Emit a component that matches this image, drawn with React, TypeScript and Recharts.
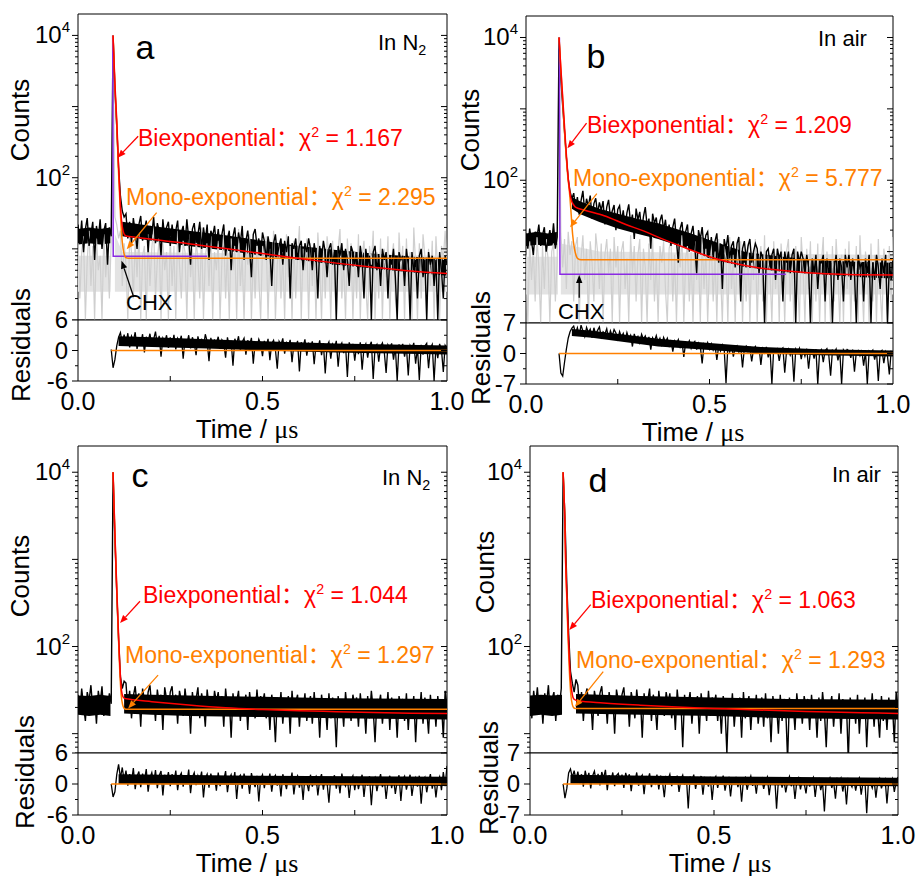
import React from 'react';
import { ComposedChart, Line, Area, XAxis, YAxis, ReferenceArea, ReferenceLine } from 'recharts';

const FONT = "'Liberation Sans', Arial, 'Noto Sans CJK SC', sans-serif";
const RED = '#ff0000';
const ORANGE = '#ff8000';
const PURPLE = '#8a2be2';
const GREY = '#cfcfcf';
const GREY_CORE = '#e3e3e3';

// decay traces are sampled every 5 ns from t = 0, residuals from t = 0.09 us
const STEP = 0.005;
const RES_START = 0.09;

const X_TICKS = [0, 0.25, 0.5, 0.75, 1];
const LOG_TICKS_1 = [1, 2, 3, 4, 5, 6, 7, 8, 9, 10, 20, 30, 40, 50, 60, 70, 80, 90, 100, 200, 300, 400, 500, 600, 700, 800, 900, 1000, 2000, 3000, 4000, 5000, 6000, 7000, 8000, 9000, 10000];
const LOG_TICKS_6 = [6, 7, 8, 9, 10, 20, 30, 40, 50, 60, 70, 80, 90, 100, 200, 300, 400, 500, 600, 700, 800, 900, 1000, 2000, 3000, 4000, 5000, 6000, 7000, 8000, 9000, 10000];
const RES_TICKS_6 = [-6, -3, 0, 3, 6];
const RES_TICKS_7 = [-7, -3.5, 0, 3.5, 7];
const ZERO_LINE = [[0.09, 0], [1.0, 0]];

// ---------- a : In N2 ----------
const decayA = [
  22, 12, 25, 9, 19, 27, 11, 16, 24, 7, 21, 14, 26, 10, 18, 23, 6, 20,
  15,
  10000, 1800, 520, 140, 55, 34, 28,
  31, 14, 24, 12, 27, 17, 10, 22, 29, 13, 19, 25, 9, 21, 16, 28, 12, 23, 18, 8, 26, 14, 20, 24, 11,
  22, 13, 18, 25, 9, 17, 21, 11, 26, 14, 6, 19, 23, 12, 16, 24, 10, 20, 13, 22, 7, 18, 15, 21, 11,
  19, 10, 16, 22, 8, 14, 18, 5, 15, 20, 9, 17, 12, 21, 7, 13, 18, 10, 4, 16, 19, 11, 14, 8, 17,
  13, 7, 15, 10, 3, 12, 16, 8, 11, 14, 6, 13, 9, 15, 2, 12, 10, 14, 7, 11, 13, 5, 12, 9, 14,
  10, 5, 12, 8, 2, 11, 7, 13, 9, 4, 10, 12, 6, 9, 1, 11, 8, 12, 5, 10, 7, 3, 11, 9, 6,
  9, 4, 11, 7, 2, 10, 6, 8, 1, 9, 11, 5, 8, 3, 10, 7, 9, 2, 8, 6, 10, 4, 1, 9, 7,
  8, 3, 10, 6, 1, 9, 5, 7, 2, 8, 10, 4, 7, 1, 9, 6, 8, 3, 7, 1, 9, 5, 2, 8, 6,
];
// dense core of each noisy trace: [t, low, high]
const corePreA = [[0, 11.5, 19], [0.03, 12, 20], [0.06, 11.5, 19], [0.088, 12, 20]];
const coreA = [[0.12, 15, 24], [0.2, 13, 21], [0.3, 11, 18], [0.4, 9.5, 15.5], [0.5, 8, 13], [0.6, 7, 11], [0.7, 6, 9.6], [0.8, 5.3, 8.6], [0.9, 4.7, 7.8], [1.0, 4.2, 7.2]];
const chxA = [
  12, 2, 9, 15, 1, 7, 18, 3, 11, 1, 14, 5, 8, 1, 16, 4, 10, 2,
  13,
  9000, 28, 22, 14, 18, 3, 12,
  6, 1, 15, 9, 2, 13, 4, 17, 1, 8, 11, 1, 16, 3, 10, 22, 2, 7, 14, 1, 12, 5, 9, 1, 15,
  3, 11, 1, 18, 6, 2, 13, 9, 1, 16, 4, 10, 1, 14, 7, 2, 20, 1, 8, 12, 3, 15, 1, 9, 5,
  13, 1, 7, 17, 2, 10, 1, 14, 5, 11, 1, 19, 3, 8, 1, 12, 6, 16, 1, 9, 2, 14, 4, 1, 11,
  7, 15, 1, 10, 3, 18, 1, 6, 12, 2, 9, 1, 16, 4, 11, 1, 13, 2, 8, 21, 1, 10, 5, 14, 1,
  12, 3, 9, 1, 17, 6, 1, 11, 2, 15, 8, 1, 13, 4, 1, 10, 19, 2, 7, 1, 14, 5, 12, 1, 9,
  2, 16, 1, 8, 13, 3, 1, 11, 6, 18, 1, 9, 2, 14, 1, 10, 4, 15, 1, 7, 12, 2, 1, 17, 5,
  11, 1, 14, 3, 9, 1, 20, 6, 1, 12, 2, 16, 8, 1, 10, 3, 13, 1, 15, 5, 1, 11, 7, 18, 4,
];
const chxCorePreA = [[0, 2.5, 8], [0.088, 2.5, 8]];
const chxCoreA = [[0.1, 2.5, 16], [0.12, 2.5, 9], [1.0, 2.5, 8]];
const residA = [
  0.2, -3.4, -1.8, 0.9, 2.6, 3.5, 1.4, 3.1,
  1.2, 3.4, 0.6, 2.8, 1.9, 3.6, 0.3, 2.5, 1.4, 3.2, -0.4, 2.7, 1.8, 3.3, 0.9, 2.2, 3.7, 1.1, 2.9, -1.2, 2.4, 1.6, 3.0, 0.5, 2.6,
  1.0, 3.1, 0.2, 2.4, 1.7, 2.9, -1.6, 2.2, 1.3, 3.0, 0.4, 2.6, 1.5, -0.9, 2.8, 1.1, 2.3, 0.6, 3.2, 1.8, -2.1, 2.5, 0.8, 2.0, 1.4,
  2.7, 0.3, 2.1, 1.5, -1.4, 2.6, 0.7, 1.9, -3.0, 2.3, 1.2, 2.8, 0.1, 1.7, 2.4, -0.8, 2.0, 1.0, 2.5, -2.6, 1.6, 0.4, 2.2, 1.3, -1.1,
  1.9, 0.5, 2.3, -1.9, 1.4, 2.0, 0.2, -3.6, 1.8, 1.1, 2.4, -0.6, 1.5, 0.8, 2.1, -2.3, 1.2, 0.3, 1.9, -4.1, 1.6, 0.7, 2.2, -1.0, 1.3,
  0.6, 1.8, -2.7, 1.1, 0.2, 2.0, -0.9, 1.4, -4.5, 0.9, 1.7, -1.6, 1.2, 0.4, 1.9, -3.2, 0.8, 1.5, -0.5, 1.1, -5.2, 1.6, 0.3, 1.3, -2.0,
  1.0, -0.7, 1.6, -3.8, 0.5, 1.3, -1.4, 0.9, 1.7, -5.6, 0.6, 1.2, -2.2, 0.8, 1.5, -0.3, -4.4, 1.1, 0.4, 1.4, -1.8, 0.7, -6.0, 1.2, 0.2,
  1.3, -1.2, 0.8, -4.9, 1.0, 0.3, 1.5, -2.6, 0.6, -5.8, 1.1, -0.8, 0.9, 1.4, -3.5, 0.5, 1.2, -6.0, 0.7, -1.5, 1.3, 0.1, -4.2, 1.0, 0.4,
];
const resCoreA = [[0.11, 0.9, 2.8], [0.2, 0.7, 2.6], [0.35, 0.4, 2.2], [0.5, 0, 1.8], [0.7, -0.4, 1.4], [1.0, -0.8, 1.0]];
const biexpA = [[0.095, 10000], [0.1, 2100], [0.105, 640], [0.11, 140], [0.114, 50], [0.118, 25], [0.122, 18], [0.126, 15.8], [0.13, 15.2], [0.16, 14.5], [0.2, 13.6], [0.3, 11.8], [0.4, 10.1], [0.5, 8.6], [0.6, 7.3], [0.7, 6.3], [0.8, 5.5], [0.9, 4.9], [1.0, 4.5]];
const monoA = [[0.095, 10000], [0.1, 1900], [0.105, 560], [0.11, 115], [0.114, 40], [0.118, 16.5], [0.122, 10.2], [0.126, 8.1], [0.13, 7.5], [0.136, 7.4], [1.0, 7.4]];
const irfA = [[0.094, 10000], [0.0955, 7.9], [0.35, 7.9]];

// ---------- b : In air ----------
const decayB = [
  18, 11, 21, 14, 9, 19, 16, 24, 12, 17, 22, 10, 15, 20, 13, 25, 11, 16,
  10000,
  2600, 1100, 480, 210, 105, 70, 55,
  66, 40, 58, 33, 52, 71, 36, 55, 43, 61, 29, 47, 56, 34, 49, 38, 51, 24, 42, 53, 30, 37, 45, 20, 39,
  44, 26, 38, 21, 35, 46, 24, 33, 15, 40, 28, 36, 19, 31, 42, 23, 29, 11, 34, 25, 30, 17, 27, 33, 20,
  28, 16, 24, 12, 22, 29, 14, 7, 21, 26, 13, 19, 24, 10, 18, 23, 12, 5, 20, 15, 22, 11, 17, 19, 9,
  16, 9, 14, 18, 7, 13, 3, 15, 11, 17, 8, 12, 14, 6, 13, 16, 2, 11, 14, 8, 12, 15, 7, 10, 13,
  11, 5, 10, 8, 1, 10, 11, 6, 9, 11, 4, 11, 8, 10, 2, 10, 7, 10, 5, 9, 11, 1, 10, 7, 10,
  8, 5, 9, 6, 1, 8, 5, 9, 3, 7, 7, 9, 2, 8, 5, 7, 1, 6, 9, 4, 8, 6, 2, 9, 6,
  9, 4, 8, 5, 1, 9, 6, 7, 2, 8, 5, 9, 1, 7, 4, 9, 6, 3, 8, 5, 9, 1, 7, 4, 8,
];
const corePreB = [[0, 12, 18], [0.03, 12.5, 19], [0.06, 12, 18], [0.087, 12.5, 19]];
const coreB = [[0.125, 40, 58], [0.15, 33, 50], [0.2, 26, 40], [0.25, 21, 34], [0.3, 18, 29], [0.36, 15, 25], [0.45, 10.5, 18], [0.5, 8, 14.5], [0.6, 6, 9.8], [0.7, 5.2, 8.5], [0.8, 4.8, 7.6], [0.9, 4.4, 7.2], [1.0, 4.2, 7]];
const chxB = [
  9, 1, 14, 4, 11, 2, 16, 6, 1, 12, 3, 15, 8, 1, 10, 13, 2, 7,
  9000,
  18, 6, 15, 3, 19, 9, 14,
  2, 12, 16, 1, 8, 17, 4, 11, 1, 14, 7, 2, 18, 10, 3, 13, 1, 9, 15, 5, 11, 1, 16, 6, 12,
  1, 10, 14, 3, 8, 1, 17, 5, 12, 2, 9, 15, 1, 11, 6, 1, 13, 4, 16, 2, 8, 1, 12, 7, 14,
  3, 1, 11, 15, 2, 9, 1, 13, 6, 17, 1, 8, 12, 2, 10, 1, 14, 4, 9, 1, 16, 3, 11, 1, 7,
  13, 2, 10, 1, 15, 5, 1, 12, 8, 1, 16, 3, 9, 1, 11, 6, 14, 1, 7, 2, 13, 1, 10, 4, 15,
  1, 8, 12, 2, 17, 1, 9, 5, 1, 14, 3, 11, 1, 13, 6, 1, 10, 15, 2, 8, 1, 12, 4, 1, 16,
  6, 1, 11, 3, 14, 1, 9, 2, 13, 1, 7, 16, 1, 10, 4, 1, 12, 2, 15, 5, 1, 9, 1, 11, 3,
  14, 1, 8, 2, 12, 1, 17, 4, 1, 10, 6, 1, 13, 2, 9, 1, 15, 3, 1, 11, 7, 1, 12, 2, 16,
];
const chxCorePreB = [[0, 2.5, 8.5], [0.087, 2.5, 8.5]];
const chxCoreB = [[0.095, 2.5, 13], [0.2, 2.5, 10], [1.0, 2.5, 9]];
const residB = [
  0, -4.5, -5.2, -2.0, 1.0, 3.5, 5.0, 5.8,
  6.3, 4.6, 5.9, 4.1, 6.5, 5.2, 3.9, 6.0, 4.8, 5.6, 3.6, 5.9, 4.4, 5.3, 6.1, 3.8, 5.0, 4.5, 5.7, 3.4, 5.2, 4.0, 5.5, 4.7, 3.3,
  5.0, 3.7, 4.6, 2.9, 4.8, 3.4, 4.2, 1.6, 4.5, 3.1, 3.9, 2.5, 4.4, 3.3, 4.0, 2.2, 3.8, 0.9, 3.6, 2.8, 4.1, 2.4, 3.5, 2.0, 3.7,
  2.6, 3.5, 1.8, 3.1, 0.4, 2.9, 2.2, 3.2, 1.5, 2.7, -0.8, 2.5, 1.9, 2.9, 1.2, 2.3, 2.8, 0.9, 2.4, 1.6, -2.3, 2.1, 1.3, 2.5, 1.0,
  2.2, 0.8, 1.9, -1.5, 1.7, 0.6, 2.0, 1.1, -6.8, 1.6, 0.4, 1.9, -0.7, 1.4, 1.8, 0.3, 1.5, -3.2, 1.2, 1.7, 0.5, 1.3, -1.8, 1.0, 1.6,
  0.4, 1.4, -2.6, 1.1, 0.2, 1.5, -0.9, 0.8, -7.0, 1.2, 0.3, 1.0, -1.7, 0.9, 1.3, -4.4, 0.6, 1.1, -0.4, 0.7, -6.5, 1.0, 0.2, 1.2, -1.3,
  0.9, -0.6, 1.1, -3.5, 0.5, 0.8, -1.2, 1.0, -7.0, 0.4, 0.9, -2.0, 0.6, 1.1, -0.3, -5.1, 0.7, 0.2, 1.0, -1.6, 0.5, -7.0, 0.8, 0.1, 0.9,
  0.6, -1.0, 0.9, -4.2, 0.3, 0.7, -0.5, 0.8, -2.8, 0.4, -7.0, 0.6, 0.2, 0.8, -1.4, 0.5, -6.3, 0.3, 0.7, -2.2, 0.4, -0.6, -4.8, 0.5, 0.2,
];
const resCoreB = [[0.125, 4.0, 5.6], [0.18, 3.6, 5.2], [0.36, 1.6, 3.4], [0.5, 0.8, 2.4], [0.64, 0, 1.5], [0.8, -0.4, 1.0], [1.0, -0.7, 0.7]];
const biexpB = [[0.09, 10000], [0.095, 3700], [0.1, 1450], [0.105, 560], [0.109, 270], [0.113, 140], [0.117, 85], [0.121, 60], [0.125, 50], [0.13, 45], [0.136, 41.6], [0.16, 38], [0.213, 31.8], [0.272, 24], [0.32, 19.5], [0.363, 15.7], [0.43, 11.5], [0.509, 8.2], [0.57, 6.8], [0.636, 5.9], [0.72, 5.3], [0.817, 4.9], [0.9, 4.75], [1.0, 4.7]];
const monoB = [[0.09, 10000], [0.095, 3500], [0.1, 1300], [0.105, 470], [0.11, 200], [0.114, 110], [0.118, 72], [0.122, 40], [0.127, 17.5], [0.132, 11], [0.137, 8.7], [0.141, 8.0], [0.15, 7.7], [1.0, 7.7]];
const irfB = [[0.091, 10000], [0.0925, 4.8], [0.708, 4.8]];

// ---------- c : In N2 ----------
const decayC = [
  28, 17, 33, 21, 14, 30, 24, 36, 19, 26, 13, 31, 22, 35, 16, 27, 20, 29,
  22,
  10000, 1700, 420, 120, 45, 33, 40,
  38, 19, 31, 15, 27, 35, 21, 29, 12, 33, 24, 17, 30, 36, 20, 26, 14, 32, 22, 28, 11, 34, 25, 18, 30,
  35, 18, 28, 13, 31, 24, 16, 33, 21, 27, 10, 30, 19, 25, 34, 15, 29, 22, 12, 32, 20, 26, 17, 31, 23,
  30, 16, 27, 12, 33, 20, 25, 9, 29, 18, 23, 31, 14, 26, 21, 28, 11, 30, 19, 24, 15, 32, 17, 27, 22,
  29, 15, 25, 11, 28, 20, 8, 26, 17, 30, 13, 24, 19, 27, 10, 31, 16, 23, 28, 12, 25, 18, 29, 14, 22,
  27, 13, 30, 16, 24, 9, 28, 19, 22, 11, 29, 15, 26, 20, 7, 27, 17, 23, 12, 30, 18, 25, 14, 28, 21,
  26, 12, 29, 17, 23, 10, 27, 15, 31, 19, 8, 25, 21, 28, 13, 24, 16, 30, 11, 26, 18, 22, 9, 27, 20,
  25, 14, 29, 11, 24, 18, 27, 8, 23, 16, 30, 13, 26, 19, 10, 28, 15, 24, 12, 27, 17, 22, 9, 31, 21,
];
const corePreC = [[0, 16.5, 27.5], [0.03, 16, 27], [0.06, 16.5, 28], [0.088, 16, 27]];
const coreC = [[0.125, 17, 28.5], [0.2, 16.5, 28], [0.3, 16, 27.5], [0.5, 15.5, 26.5], [0.7, 15, 25.5], [1.0, 14.5, 25]];
const residC = [
  0, -2.5, -1.5, 1.8, 3.8, 1.2, 3.2, 0.6,
  2.6, -0.3, 1.9, 0.4, 3.1, -1.0, 1.5, 2.4, -0.6, 2.0, 0.7, 2.9, -1.5, 1.2, 2.2, 0.1, 2.7, -0.8, 1.6, 2.5, -2.2, 1.8, 0.5, 2.3, -0.4,
  1.9, 0.3, 2.6, -1.2, 1.4, 2.1, -0.5, 1.7, 0.2, 2.8, -1.8, 1.3, 2.2, -0.2, 1.6, 0.6, 2.4, -2.6, 1.1, 1.9, -0.7, 2.0, 0.4, 1.5, -1.3,
  2.2, -0.4, 1.3, 0.8, 2.5, -1.6, 1.0, 1.8, -0.1, 2.3, -2.9, 1.2, 1.7, -0.9, 2.0, 0.3, 1.4, -1.9, 2.1, 0.5, -0.6, 1.6, -3.4, 1.1, 1.8,
  -0.8, 1.5, 0.2, 2.0, -1.5, 1.1, 1.7, -0.3, 1.3, -2.4, 1.9, 0.6, -1.0, 1.4, 0.1, 2.2, -2.0, 0.9, 1.6, -0.7, 1.2, -3.1, 1.5, 0.4, -1.4,
  1.8, -0.5, 1.0, 1.5, -2.2, 0.8, 1.9, -1.1, 1.2, 0.2, -3.6, 1.4, 0.6, 1.7, -0.9, 1.1, -1.8, 2.0, 0.3, -0.4, 1.3, -2.7, 0.9, 1.6, -1.2,
  1.4, -1.0, 0.7, 1.8, -2.5, 1.0, -0.3, 1.5, -4.1, 0.8, 1.3, -1.4, 0.5, 1.9, -0.6, 1.1, -2.9, 0.4, 1.6, -0.8, 1.2, -1.9, 0.6, 1.7, -3.3,
  0.9, 1.5, -1.1, 0.6, 1.8, -2.3, 0.3, 1.2, -0.5, 1.6, -3.8, 0.7, 1.3, -1.6, 0.4, 1.9, -0.9, 1.0, -2.6, 0.5, 1.4, -1.2, 2.3, -0.4, 3.5,
];
const resCoreC = [[0.11, 0, 1.9], [0.5, -0.2, 1.6], [1.0, -0.4, 1.4]];
const biexpC = [[0.095, 10000], [0.1, 2000], [0.105, 470], [0.109, 170], [0.113, 65], [0.118, 31], [0.122, 26.5], [0.126, 25.4], [0.14, 24.8], [0.2, 23.3], [0.3, 21.3], [0.4, 19.8], [0.5, 18.9], [0.6, 18.3], [0.7, 17.9], [0.8, 17.5], [0.9, 17.2], [1.0, 17]];
const monoC = [[0.095, 10000], [0.1, 1900], [0.105, 440], [0.109, 150], [0.113, 55], [0.117, 28], [0.121, 21.5], [0.125, 19.5], [0.13, 19.1], [1.0, 19.1]];

// ---------- d : In air ----------
const decayD = [
  26, 15, 31, 20, 34, 18, 27, 13, 29, 22, 36, 17, 25, 30, 14, 28, 21, 33,
  10000,
  3000, 520, 140, 52, 38, 30, 42,
  36, 18, 30, 14, 27, 33, 20, 25, 11, 31, 23, 16, 29, 35, 19, 26, 13, 30, 21, 27, 10, 32, 24, 17, 28,
  34, 17, 27, 12, 30, 23, 15, 32, 20, 26, 9, 29, 18, 24, 33, 14, 28, 21, 11, 31, 19, 25, 16, 30, 22,
  29, 15, 26, 11, 32, 19, 24, 7, 28, 17, 22, 30, 13, 25, 20, 27, 10, 29, 18, 23, 14, 31, 16, 26, 21,
  28, 14, 24, 10, 27, 19, 6, 25, 16, 29, 12, 23, 18, 26, 9, 30, 15, 22, 27, 11, 24, 17, 28, 13, 21,
  26, 12, 29, 15, 23, 8, 27, 18, 21, 10, 28, 14, 25, 19, 5, 26, 16, 22, 11, 29, 17, 24, 13, 27, 20,
  25, 11, 28, 16, 22, 9, 26, 14, 30, 18, 7, 24, 20, 27, 12, 23, 15, 29, 10, 25, 17, 21, 5, 26, 19,
  24, 13, 28, 10, 23, 17, 26, 7, 22, 15, 29, 12, 25, 18, 9, 27, 14, 23, 11, 26, 16, 21, 8, 30, 20,
];
const corePreD = [[0, 16, 27.5], [0.03, 16.5, 28], [0.06, 16, 27.5], [0.087, 16.5, 28]];
const coreD = [[0.125, 17, 28.5], [0.3, 16.5, 27], [0.5, 16, 26], [0.7, 15, 25], [1.0, 14.5, 24.5]];
const residD = [
  0, -3.2, -1.0, 2.5, 3.4, 1.5, 3.0, 0.8,
  2.8, 0.2, 2.2, -0.6, 3.0, 1.1, 2.5, -1.0, 1.8, 2.9, 0.4, 2.3, -0.3, 2.7, 1.3, 3.2, -1.4, 2.0, 0.7, 2.6, -0.5, 1.9, 2.4, 0.1, 2.1,
  -0.9, 2.5, 1.0, 2.2, -1.6, 1.7, 0.5, 2.6, -0.4, 1.4, 2.0, -2.3, 1.8, 0.8, 2.4, -0.7, 1.5, 0.2, 2.1, -1.2, 1.9, 0.6, -3.0, 1.6, 1.1,
  2.2, -0.5, 1.3, 0.4, 1.9, -1.8, 1.1, 2.0, -0.2, 1.5, -5.5, 1.7, 0.7, 2.1, -1.1, 1.2, 0.3, 1.8, -2.4, 1.4, 0.9, -0.6, 1.6, -3.6, 1.0,
  1.7, -0.9, 1.2, 0.5, 1.9, -1.5, 0.8, 1.4, -2.8, 1.1, 0.2, 1.6, -0.7, 1.3, -4.0, 0.9, 1.5, -1.3, 0.6, 1.8, -0.4, 1.0, -2.2, 1.4, 0.3,
  1.2, -1.1, 0.7, 1.6, -2.5, 0.9, 0.3, 1.5, -5.6, 0.8, 1.3, -0.8, 1.0, -1.9, 0.5, 1.7, -0.5, 1.1, -3.4, 0.6, 1.4, -1.2, 0.9, 0.2, -2.1,
  1.3, -0.6, 0.8, 1.5, -2.9, 0.7, 1.2, -1.4, 0.4, -6.2, 1.0, 0.5, 1.4, -0.9, 0.6, -3.3, 1.1, 0.3, 1.3, -1.7, 0.8, -4.6, 1.0, 0.2, -0.7,
  1.1, -1.5, 0.7, 1.4, -2.4, 0.5, 0.9, -6.6, 1.2, 0.3, -0.9, 1.0, -3.1, 0.6, 1.3, -1.0, 0.4, 1.1, -4.4, 0.8, 0.2, 1.2, -1.8, 0.5, 1.6,
];
const resCoreD = [[0.11, 0.1, 2.1], [0.5, -0.2, 1.7], [1.0, -0.5, 1.4]];
const biexpD = [[0.09, 10000], [0.094, 3500], [0.097, 910], [0.1, 400], [0.103, 170], [0.107, 70], [0.111, 38], [0.115, 28], [0.119, 25], [0.13, 23.8], [0.2, 22.5], [0.3, 21.2], [0.4, 20.2], [0.5, 19.5], [0.6, 18.8], [0.75, 18.0], [0.9, 17.4], [1.0, 17]];
const monoD = [[0.09, 10000], [0.094, 3400], [0.097, 850], [0.1, 350], [0.103, 140], [0.107, 52], [0.111, 28], [0.115, 21.5], [0.119, 19.8], [0.123, 19.5], [1.0, 19.5]];

const onGrid = (vals: number[], t0 = 0) => vals.map((v, i) => ({ t: Number((t0 + i * STEP).toFixed(4)), v }));
const pairs = (arr: number[][]) => arr.map(([t, v]) => ({ t, v }));
const ranges = (arr: number[][]) => arr.map(([t, lo, hi]) => ({ t, r: [lo, hi] }));

const YW = 72; // room for the left tick labels
const XH = 40; // room for the bottom tick labels
const MT = 15; // residual chart: room above for the top tick label
const MR = 25; // residual chart: room on the right for "1.0"

type Arrow = { from: number[]; to: number[]; color: string };

const panels = [
  {
    id: 'a', env: 'N2', chiBi: '1.167', chiMono: '2.295',
    left: 78, w: 369, top: 14, boundary: 320, bottom: 381,
    logDomain: [1, 20000], logTicks: LOG_TICKS_1, res: 6, resTicks: RES_TICKS_6,
    decay: onGrid(decayA), core: [ranges(corePreA), ranges(coreA)],
    chx: onGrid(chxA), chxCore: [ranges(chxCorePreA), ranges(chxCoreA)],
    resid: onGrid(residA, RES_START), resCore: ranges(resCoreA),
    biexp: pairs(biexpA), mono: pairs(monoA), irf: pairs(irfA),
    arrows: [
      { from: [0.163, 383], to: [0.1076, 191], color: RED },
      { from: [0.213, 32.3], to: [0.132, 9.9], color: ORANGE },
      { from: [0.15, 2.18], to: [0.118, 6.8], color: '#000' },
    ] as Arrow[],
    letter: [145, 47], envPos: [378, 43], bi: [138, 138], mono2: [126, 197], chxPos: [126, 303],
    counts: [20, 120], residPos: [21, 345], time: [247, 429],
  },
  {
    id: 'b', env: 'air', chiBi: '1.209', chiMono: '5.777',
    left: 526, w: 367, top: 16, boundary: 323, bottom: 384,
    logDomain: [1, 20000], logTicks: LOG_TICKS_1, res: 7, resTicks: RES_TICKS_7,
    decay: onGrid(decayB), core: [ranges(corePreB), ranges(coreB)],
    chx: onGrid(chxB), chxCore: [ranges(chxCorePreB), ranges(chxCoreB)],
    resid: onGrid(residB, RES_START), resCore: ranges(resCoreB),
    biexp: pairs(biexpB), mono: pairs(monoB), irf: pairs(irfB),
    arrows: [
      { from: [0.165, 630], to: [0.113, 280], color: RED },
      { from: [0.193, 65], to: [0.12, 21.9], color: ORANGE },
      { from: [0.145, 2.25], to: [0.145, 4.7], color: '#000' },
    ] as Arrow[],
    letter: [596, 56], envPos: [818, 39], bi: [587, 125], mono2: [573, 178], chxPos: [558, 312],
    counts: [470, 130], residPos: [481, 348], time: [693, 432],
  },
  {
    id: 'c', env: 'N2', chiBi: '1.044', chiMono: '1.297',
    left: 78, w: 369, top: 446, boundary: 753, bottom: 815,
    logDomain: [6, 20000], logTicks: LOG_TICKS_6, res: 6, resTicks: RES_TICKS_6,
    decay: onGrid(decayC), core: [ranges(corePreC), ranges(coreC)],
    chx: null, chxCore: [],
    resid: onGrid(residC, RES_START), resCore: ranges(resCoreC),
    biexp: pairs(biexpC), mono: pairs(monoC), irf: null,
    arrows: [
      { from: [0.168, 331], to: [0.114, 186], color: RED },
      { from: [0.217, 47], to: [0.136, 19.5], color: ORANGE },
    ] as Arrow[],
    letter: [140, 475], envPos: [382, 478], bi: [143, 595], mono2: [125, 655], chxPos: null,
    counts: [20, 576], residPos: [25, 772], time: [247, 863],
  },
  {
    id: 'd', env: 'air', chiBi: '1.063', chiMono: '1.293',
    left: 530, w: 368, top: 446, boundary: 753, bottom: 815,
    logDomain: [6, 20000], logTicks: LOG_TICKS_6, res: 7, resTicks: RES_TICKS_7,
    decay: onGrid(decayD), core: [ranges(corePreD), ranges(coreD)],
    chx: null, chxCore: [],
    resid: onGrid(residD, RES_START), resCore: ranges(resCoreD),
    biexp: pairs(biexpD), mono: pairs(monoD), irf: null,
    arrows: [
      { from: [0.165, 302], to: [0.107, 155], color: RED },
      { from: [0.199, 51.5], to: [0.122, 20.3], color: ORANGE },
    ] as Arrow[],
    letter: [598, 480], envPos: [832, 475], bi: [591, 600], mono2: [576, 660], chxPos: null,
    counts: [485, 572], residPos: [489, 778], time: [720, 863],
  },
];

// ---- custom ticks (drawn by hand so minor ones can be shorter) ----
const isDecade = (v: number) => {
  const e = Math.log10(v);
  return Math.abs(e - Math.round(e)) < 1e-6;
};

const LeftLogTick = (props: any) => {
  const { x, y, payload } = props;
  const v = payload.value;
  const ax = x + 8;
  const major = isDecade(v);
  const exp = Math.round(Math.log10(v));
  const label = major && (exp === 2 || exp === 4);
  return (
    <g>
      <line x1={ax - (major ? 6 : 3)} x2={ax} y1={y} y2={y} stroke="#000" strokeWidth={1} />
      {label && (
        <text x={x} y={y + 8} textAnchor="end" fontSize={24} fontFamily={FONT} fill="#000">
          10<tspan fontSize={15} dy={-11}>{exp}</tspan>
        </text>
      )}
    </g>
  );
};

const RightLogTick = (props: any) => {
  const { x, y, payload } = props;
  const len = isDecade(payload.value) ? 6 : 3;
  return <line x1={x - len} x2={x} y1={y} y2={y} stroke="#000" strokeWidth={1} />;
};

const LeftResTick = (props: any) => {
  const { x, y, payload, index } = props;
  const ax = x + 10;
  const major = index % 2 === 0;
  return (
    <g>
      <line x1={ax - (major ? 6 : 3)} x2={ax} y1={y} y2={y} stroke="#000" strokeWidth={1} />
      {major && (
        <text x={x} y={y + 8} textAnchor="end" fontSize={24} fontFamily={FONT} fill="#000">
          {String(payload.value)}
        </text>
      )}
    </g>
  );
};

const RightResTick = (props: any) => {
  const { x, y, index } = props;
  const len = index % 2 === 0 ? 6 : 3;
  return <line x1={x - len} x2={x} y1={y} y2={y} stroke="#000" strokeWidth={1} />;
};

const TopTick = (props: any) => {
  const { x, y, index } = props;
  if (index === 0 || index === 4) return <g />;
  return <line x1={x} x2={x} y1={y} y2={y + 5} stroke="#000" strokeWidth={1} />;
};

const BottomTick = (props: any) => {
  const { x, y, payload, index } = props;
  return (
    <g>
      {index > 0 && index < 4 && <line x1={x} x2={x} y1={y - 5} y2={y} stroke="#000" strokeWidth={1} />}
      {index % 2 === 0 && (
        <text x={x} y={y + 29} textAnchor="middle" fontSize={25} fontFamily={FONT} fill="#000">
          {payload.value.toFixed(1)}
        </text>
      )}
    </g>
  );
};

const arrowShape = (color: string) => (props: any) => {
  const { x1, y1, x2, y2 } = props;
  const ang = Math.atan2(y2 - y1, x2 - x1);
  const L = 8;
  const W = 3.2;
  const bx = x2 - L * Math.cos(ang);
  const by = y2 - L * Math.sin(ang);
  const px = W * Math.sin(ang);
  const py = W * Math.cos(ang);
  return (
    <g>
      <line x1={x1} y1={y1} x2={bx} y2={by} stroke={color} strokeWidth={1.3} />
      <polygon points={`${x2},${y2} ${bx - px},${by + py} ${bx + px},${by - py}`} fill={color} />
    </g>
  );
};

const Txt = ({ x, y, size, color = '#000', center = false, rotate = false, children }: any) => (
  <div
    style={{
      position: 'absolute',
      left: x,
      top: y,
      transform: rotate ? 'translate(-50%, -50%) rotate(-90deg)' : center ? 'translate(-50%, -50%)' : 'translateY(-50%)',
      fontSize: size,
      color,
      fontFamily: FONT,
      lineHeight: 1,
      whiteSpace: 'pre',
    }}
  >
    {children}
  </div>
);

const Sup = ({ children }: any) => (
  <span style={{ fontSize: '0.62em', position: 'relative', top: '-0.6em' }}>{children}</span>
);

function Panel({ p }: { p: (typeof panels)[number] }) {
  const mainH = p.boundary - p.top;
  const resH = p.bottom - p.boundary;
  const W = YW + p.w + 1;
  const [lo, hi] = p.logDomain;
  const axisCommon = { axisLine: false, tickLine: false, tickSize: 0, interval: 0 as const };
  return (
    <>
      <div style={{ position: 'absolute', left: p.left - YW, top: p.top - 1 }}>
        <ComposedChart width={W} height={mainH + 1} margin={{ top: 0, right: 0, bottom: 0, left: 0 }}>
          <XAxis dataKey="t" type="number" domain={[0, 1]} hide allowDataOverflow />
          <XAxis xAxisId="top" orientation="top" type="number" domain={[0, 1]} ticks={X_TICKS} height={1} tickMargin={0} tick={TopTick} {...axisCommon} />
          <YAxis type="number" scale="log" domain={[lo, hi]} ticks={p.logTicks} width={YW} tickMargin={8} tick={LeftLogTick} allowDataOverflow {...axisCommon} />
          <YAxis yAxisId="r" orientation="right" type="number" scale="log" domain={[lo, hi]} ticks={p.logTicks} width={1} tickMargin={0} tick={RightLogTick} allowDataOverflow {...axisCommon} />
          <ReferenceArea x1={0} x2={1} y1={lo} y2={hi} fill="none" stroke="#000" strokeWidth={1} ifOverflow="visible" />
          {p.chxCore.map((c, i) => (
            <Area key={`gc${i}`} data={c} dataKey="r" type="linear" stroke="none" fill={GREY_CORE} fillOpacity={1} dot={false} activeDot={false} isAnimationActive={false} />
          ))}
          {p.chx && <Line data={p.chx} dataKey="v" stroke={GREY} strokeWidth={1.2} dot={false} isAnimationActive={false} />}
          {p.core.map((c, i) => (
            <Area key={`bc${i}`} data={c} dataKey="r" type="linear" stroke="none" fill="#000" fillOpacity={1} dot={false} activeDot={false} isAnimationActive={false} />
          ))}
          <Line data={p.decay} dataKey="v" stroke="#000" strokeWidth={1.4} dot={false} isAnimationActive={false} />
          {p.irf && <Line data={p.irf} dataKey="v" stroke={PURPLE} strokeWidth={1.5} dot={false} isAnimationActive={false} />}
          <Line data={p.mono} dataKey="v" type="monotone" stroke={ORANGE} strokeWidth={1.5} dot={false} isAnimationActive={false} />
          <Line data={p.biexp} dataKey="v" type="monotone" stroke={RED} strokeWidth={1.5} dot={false} isAnimationActive={false} />
          {p.arrows.map((a, i) => (
            <ReferenceLine
              key={i}
              segment={[{ x: a.from[0], y: a.from[1] }, { x: a.to[0], y: a.to[1] }]}
              shape={arrowShape(a.color)}
              ifOverflow="visible"
            />
          ))}
        </ComposedChart>
      </div>
      <div style={{ position: 'absolute', left: p.left - YW, top: p.boundary - MT }}>
        <ComposedChart width={W + MR} height={MT + resH + XH} margin={{ top: MT, right: MR, bottom: 0, left: 0 }}>
          <XAxis dataKey="t" type="number" domain={[0, 1]} ticks={X_TICKS} height={XH} tickMargin={0} tick={BottomTick} allowDataOverflow {...axisCommon} />
          <YAxis type="number" domain={[-p.res, p.res]} ticks={p.resTicks} width={YW} tickMargin={10} tick={LeftResTick} allowDataOverflow {...axisCommon} />
          <YAxis yAxisId="r" orientation="right" type="number" domain={[-p.res, p.res]} ticks={p.resTicks} width={1} tickMargin={0} tick={RightResTick} allowDataOverflow {...axisCommon} />
          <ReferenceArea x1={0} x2={1} y1={-p.res} y2={p.res} fill="none" stroke="#000" strokeWidth={1} ifOverflow="visible" />
          <Area data={p.resCore} dataKey="r" type="linear" stroke="none" fill="#000" fillOpacity={1} dot={false} activeDot={false} isAnimationActive={false} />
          <Line data={p.resid} dataKey="v" stroke="#000" strokeWidth={1.3} dot={false} isAnimationActive={false} />
          <Line data={pairs(ZERO_LINE)} dataKey="v" stroke={ORANGE} strokeWidth={1.5} dot={false} isAnimationActive={false} />
        </ComposedChart>
      </div>

      <Txt x={p.letter[0]} y={p.letter[1]} size={34} center>{p.id}</Txt>
      <Txt x={p.envPos[0]} y={p.envPos[1]} size={22}>
        {p.env === 'N2' ? (
          <>In N<span style={{ fontSize: '0.65em', position: 'relative', top: '0.35em' }}>2</span></>
        ) : (
          'In air'
        )}
      </Txt>
      <Txt x={p.bi[0]} y={p.bi[1]} size={23} color={RED}>
        Biexponential：χ<Sup>2</Sup> = {p.chiBi}
      </Txt>
      <Txt x={p.mono2[0]} y={p.mono2[1]} size={23} color={ORANGE}>
        Mono-exponential：χ<Sup>2</Sup> = {p.chiMono}
      </Txt>
      {p.chxPos && <Txt x={p.chxPos[0]} y={p.chxPos[1]} size={22}>CHX</Txt>}
      <Txt x={p.counts[0]} y={p.counts[1]} size={26} rotate>Counts</Txt>
      <Txt x={p.residPos[0]} y={p.residPos[1]} size={26} rotate>Residuals</Txt>
      <Txt x={p.time[0]} y={p.time[1]} size={26} center>
        Time / <span style={{ fontFamily: "'Liberation Serif', serif" }}>μs</span>
      </Txt>
    </>
  );
}

export default function App() {
  return (
    <div style={{ position: 'absolute', left: 0, top: 0, width: 917, height: 876, background: '#fff', overflow: 'hidden' }}>
      {panels.map((p) => (
        <Panel key={p.id} p={p} />
      ))}
    </div>
  );
}
